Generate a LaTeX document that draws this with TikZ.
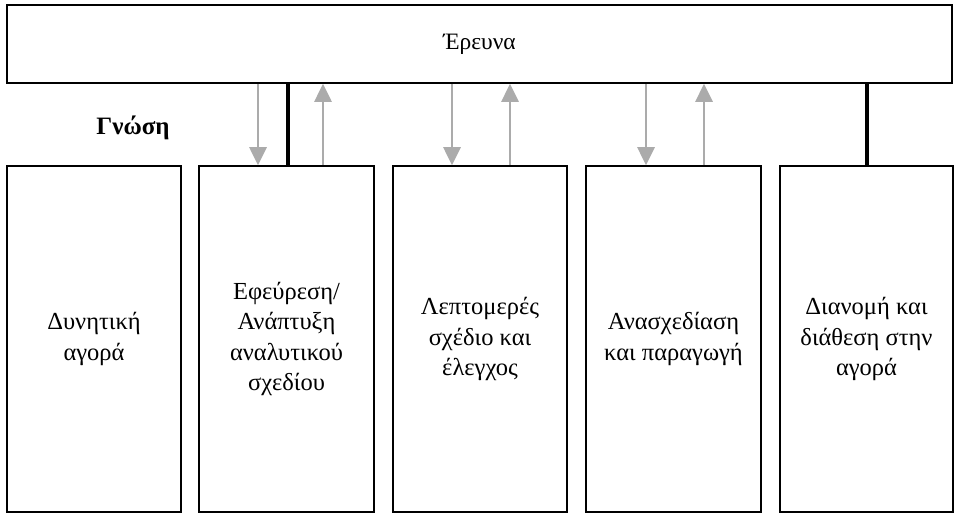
\documentclass[tikz,border=0pt]{standalone}
\usepackage{fontspec}
\setmainfont{Liberation Serif}
\usepackage{tikz}
\usetikzlibrary{arrows.meta}

\tikzset{
  stage/.style={draw, line width=1.6pt, align=center, inner sep=2pt,
    minimum height=346pt, font=\fontsize{24.5}{30.5}\selectfont},
  downarr/.style={-{Triangle[width=17pt,length=18pt]}, line width=2.8pt, black!33},
  uparr/.style={{Triangle[width=17pt,length=18pt]}-, line width=2.8pt, black!33},
  link/.style={line width=3.2pt, black}
}

\begin{document}
\begin{tikzpicture}[x=1pt,y=-1pt]
      \useasboundingbox (0,0) rectangle (958,515);
      \node[draw, line width=1.6pt, minimum width=945pt, minimum height=78pt,
        font=\fontsize{23.5}{28}\selectfont] (erevna) at (479.5,44) {Έρευνα};
      \node[font=\fontsize{25}{28}\selectfont\bfseries] (gnosi) at (133,128) {Γνώση};
      % the five stages
      \node[stage, minimum width=174pt] (agora) at (94,339) {Δυνητική\\αγορά};
      \node[stage, minimum width=175pt] (efeuresi) at (286.5,339) {Εφεύρεση/\\Ανάπτυξη\\αναλυτικού\\σχεδίου};
      \node[stage, minimum width=174pt] (leptomeres) at (480,339) {Λεπτομερές\\σχέδιο και\\έλεγχος};
      \node[stage, minimum width=175pt] (anasxediasi) at (673.5,339) {Ανασχεδίαση\\και παραγωγή};
      \node[stage, minimum width=173pt] (dianomi) at (866.5,339) {Διανομή και\\διάθεση στην\\αγορά};
      % knowledge flows
      \draw[downarr] (258,0 |- erevna.south) -- (258,0 |- efeuresi.north);
      \draw[link] (288,0 |- erevna.south) -- (288,0 |- efeuresi.north);
      \draw[uparr] (323,0 |- erevna.south) -- (323,0 |- efeuresi.north);
      \draw[downarr] (452,0 |- erevna.south) -- (452,0 |- leptomeres.north);
      \draw[uparr] (510,0 |- erevna.south) -- (510,0 |- leptomeres.north);
      \draw[downarr] (646,0 |- erevna.south) -- (646,0 |- anasxediasi.north);
      \draw[uparr] (704,0 |- erevna.south) -- (704,0 |- anasxediasi.north);
      \draw[link] (867,0 |- erevna.south) -- (867,0 |- dianomi.north);
    \end{tikzpicture}
\end{document}
